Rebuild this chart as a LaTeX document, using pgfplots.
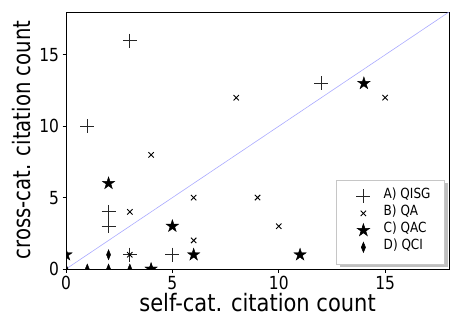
\documentclass[border=0pt]{standalone}
\usepackage{pgfplots}
\pgfplotsset{compat=1.18}
\usepackage{fontspec}
\setmainfont{DejaVu Sans}
\usetikzlibrary{shadows}
\definecolor{diag}{RGB}{170,170,255}
\newcommand{\sq}[1]{\scalebox{0.86}[1]{#1}}
\pgfdeclareplotmark{fstar}{%
 \pgfpathmoveto{\pgfpointpolar{90}{\pgfplotmarksize}}%
 \pgfpathlineto{\pgfpointpolar{126}{0.382\pgfplotmarksize}}%
 \pgfpathlineto{\pgfpointpolar{162}{\pgfplotmarksize}}%
 \pgfpathlineto{\pgfpointpolar{198}{0.382\pgfplotmarksize}}%
 \pgfpathlineto{\pgfpointpolar{234}{\pgfplotmarksize}}%
 \pgfpathlineto{\pgfpointpolar{270}{0.382\pgfplotmarksize}}%
 \pgfpathlineto{\pgfpointpolar{306}{\pgfplotmarksize}}%
 \pgfpathlineto{\pgfpointpolar{342}{0.382\pgfplotmarksize}}%
 \pgfpathlineto{\pgfpointpolar{18}{\pgfplotmarksize}}%
 \pgfpathlineto{\pgfpointpolar{54}{0.382\pgfplotmarksize}}%
 \pgfpathclose
 \pgfusepathqfillstroke}
\begin{document}
\begin{tikzpicture}[x=1pt,y=1pt]
\useasboundingbox (0,0) rectangle (463,327);
\begin{axis}[
 at={(66pt,58pt)}, anchor=south west, scale only axis,
 width=383pt, height=257pt,
 xmin=0, xmax=18, ymin=0, ymax=18,
 xtick={0,5,10,15}, ytick={0,5,10,15},
 tick align=outside, xtick pos=bottom, ytick pos=left,
 major tick length=3.5pt, tick style={black, line width=0.8pt},
 axis line style={line width=1pt},
 clip marker paths=true,
 /pgf/number format/assume math mode=true,
 xticklabel={\sq{\pgfmathprintnumber{\tick}}},
 yticklabel={\sq{\pgfmathprintnumber{\tick}}},
 ticklabel style={font=\fontsize{18}{18}\selectfont},
 xlabel={\scalebox{0.875}[1]{self-cat. citation count}},
 ylabel={\scalebox{0.82}[1]{cross-cat. citation count}},
 label style={font=\fontsize{24}{24}\selectfont},
 xlabel style={at={(axis description cs:0.5,-0.166)}, anchor=base},
 ylabel style={at={(axis description cs:-0.094,0.502)}, anchor=base},
 legend cell align=left,
 legend image code/.code={\path (0pt,-7pt) (30pt,7pt); \draw[#1] plot coordinates {(13pt,0pt)};},
 legend style={at={(0.989,0.019)}, anchor=south east,
   font=\fontsize{14}{16}\selectfont, draw=gray!45, line width=0.6pt,
   fill=white, row sep=0pt, inner xsep=14pt, inner ysep=8pt,
   nodes={inner sep=0pt, text height=11pt, text depth=6pt},
   /tikz/every odd column/.style={column sep=3pt},
   drop shadow={shadow xshift=3.5pt, shadow yshift=-3.5pt, fill=gray!50, opacity=1}},
]
\addplot[diag, line width=0.6pt, forget plot] coordinates {(0,0) (18,18)};
\addplot[only marks, mark=+, mark size=7pt, mark options={line width=0.8pt, draw=black!85}]
 coordinates {(3,16) (1,10) (12,13) (2,4) (2,3) (3,1) (5,1)};
\addlegendentry{\sq{A) QISG}}
\addplot[only marks, mark=x, mark size=3.8pt, mark options={line width=0.9pt, draw=black}]
 coordinates {(8,12) (15,12) (4,8) (3,4) (6,5) (9,5) (10,3) (6,2) (3,1)};
\addlegendentry{\sq{B) QA}}
\addplot[only marks, mark=fstar, mark size=6.5pt, mark options={fill=black, draw=black}]
 coordinates {(14,13) (2,6) (5,3) (6,1) (11,1) (0,1) (4,0)};
\addlegendentry{\sq{C) QAC}}
\addplot[only marks, mark=diamond*, mark size=5pt, mark options={xscale=0.55, fill=black, draw=black}]
 coordinates {(2,1) (0,0) (1,0) (2,0) (3,0) (4,0)};
\addlegendentry{\sq{D) QCI}}
\end{axis}
\end{tikzpicture}
\end{document}
